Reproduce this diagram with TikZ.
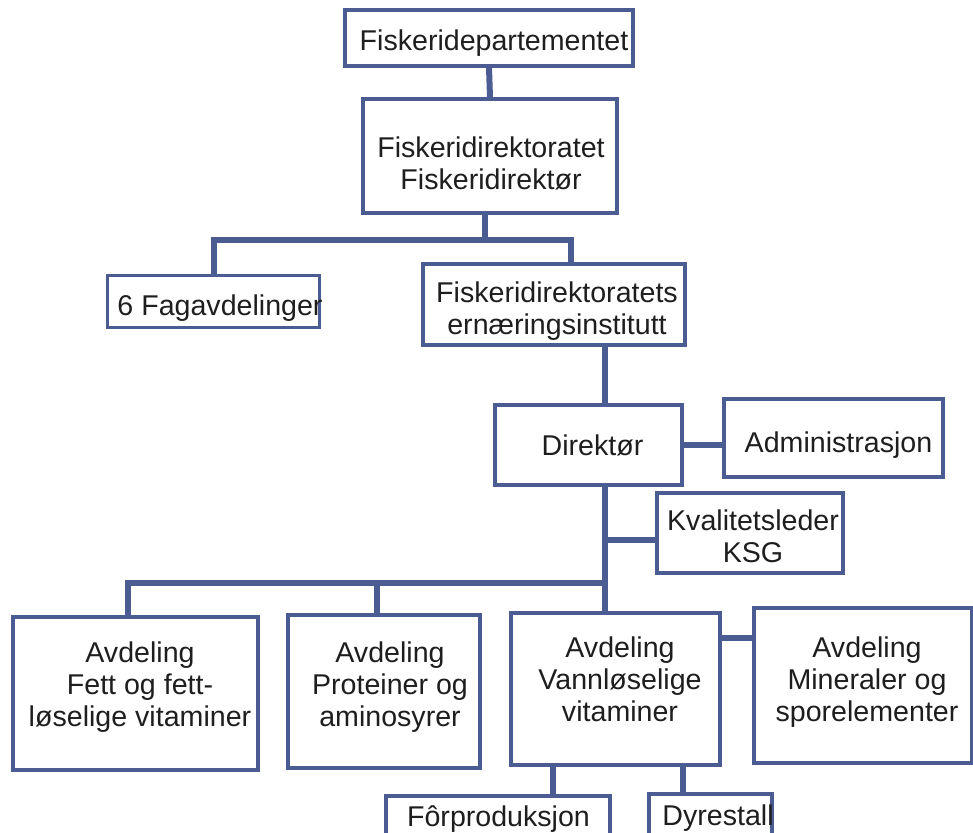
\documentclass[tikz,border=0pt]{standalone}
\usepackage{fontspec}
\setmainfont{Liberation Sans}
\usepackage{tikz}
\usetikzlibrary{calc}
\definecolor{orgblue}{RGB}{74,92,145}
\definecolor{orgtext}{RGB}{30,30,30}
\tikzset{
	box/.style={shape=rectangle,draw=orgblue,line width=3.5pt,fill=white,inner sep=0pt},
	txt/.style={anchor=north,align=center,inner sep=0pt,text=orgtext,font=\fontsize{28.6}{32}\selectfont},
	link/.style={draw=orgblue,line width=6pt}
}
\newcommand{\drawunit}[6]{
	\draw #1 node (#2) [box,minimum width=#3pt,minimum height=#4pt] {};
	\draw #5 node (#2-t) [txt] {#6};
}

\begin{document}
\begin{tikzpicture}[x=1pt,y=-1pt]
	\clip (0,0) rectangle (973,832);
	\fill[white] (0,0) rectangle (973,832);
	\drawunit{(489,38)}{dep}{288}{56}{(494,30)}{Fiskeridepartementet};
	\drawunit{(490,156)}{dir}{254}{114}{(491,137)}{Fiskeridirektoratet\\Fiskeridirektør};
	\drawunit{(213.5,301.5)}{fag}{212}{52}{(220,295)}{6 Fagavdelinger};
	\drawunit{(554,304.5)}{inst}{262}{81}{(557,282)}{Fiskeridirektoratets\\ernæringsinstitutt};
	\drawunit{(588.5,445)}{leder}{187}{80}{(592.5,435)}{Direktør};
	\drawunit{(833.5,438)}{adm}{219}{78}{(838.5,432)}{Administrasjon};
	\drawunit{(750,533)}{kval}{186}{80}{(753,510)}{Kvalitetsleder\\KSG};
	\drawunit{(135.5,693.5)}{fett}{245}{153}{(140,642)}{Avdeling\\Fett og fett-\\løselige vitaminer};
	\drawunit{(384,691.5)}{prot}{192}{153}{(390,642)}{Avdeling\\Proteiner og\\aminosyrer};
	\drawunit{(615.5,689)}{vann}{209}{152}{(620,637)}{Avdeling\\Vannløselige\\vitaminer};
	\drawunit{(863,685.5)}{min}{218}{155}{(867,637)}{Avdeling\\Mineraler og\\sporelementer};
	\drawunit{(498,822)}{forp}{224}{52}{(498.5,805)}{Fôrproduksjon};
	\drawunit{(710.5,821)}{dyr}{123}{54}{(718,805)}{Dyrestall};
	\coordinate (spine) at (605,0);
	\coordinate (topbar) at (485,240);
	\coordinate (lowbar) at (605,583);
	\coordinate (fx) at (553,0);
	\coordinate (dx) at (683,0);
	\draw[link] (dep.south) -- (dir.north);
	\draw[link] ([xshift=-5]dir.south) -- (topbar);
	\draw[link] ([xshift=0.5]fag.north) |- (topbar) -| ([xshift=17]inst.north);
	\draw[link] (inst.south -| spine) -- (leder.north -| spine);
	\draw[link] (leder.east) -- (leder.east -| adm.west);
	\draw[link] (leder.south -| spine) -- (vann.north -| spine);
	\draw[link] ([yshift=-7]kval.west -| spine) -- ([yshift=-7]kval.west);
	\draw[link] ([xshift=-8]fett.north) |- (lowbar);
	\draw[link] ([xshift=-7]prot.north) -- ([xshift=-7]prot.north |- lowbar);
	\draw[link] ([yshift=51]vann.east) -- ([yshift=51]vann.east -| min.west);
	\draw[link] (vann.south -| fx) -- (forp.north -| fx);
	\draw[link] (vann.south -| dx) -- (dyr.north -| dx);
\end{tikzpicture}
\end{document}
